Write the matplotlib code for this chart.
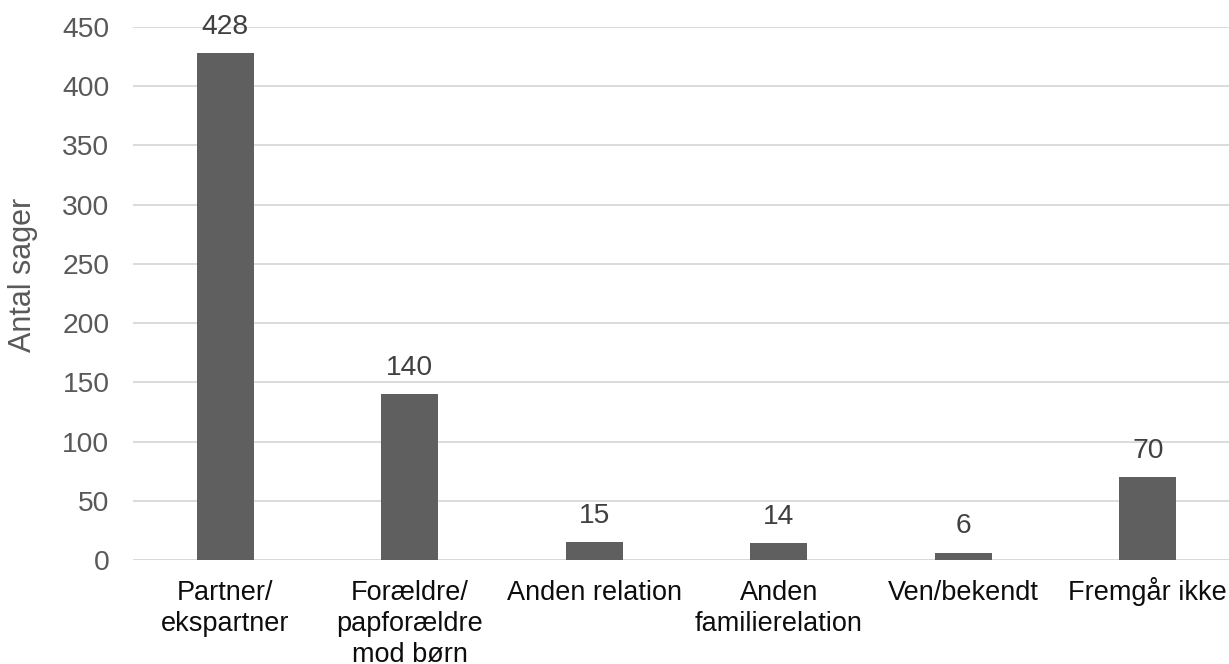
import matplotlib
matplotlib.use("Agg")
import matplotlib.pyplot as plt

categories = ["Partner/\nekspartner", "Forældre/\npapforældre\nmod børn", "Anden relation",
              "Anden\nfamilierelation", "Ven/bekendt", "Fremgår ikke"]
values = [428, 140, 15, 14, 6, 70]
yticks = [0, 50, 100, 150, 200, 250, 300, 350, 400, 450]

plt.rcParams['font.family'] = ['Liberation Sans', 'DejaVu Sans']
FS_CAT = 19.5
FS_NUM = 20.3
LS = 1.25
LINE_PX = 31

fig = plt.figure(figsize=(12.29, 6.64), dpi=100)
ax = fig.add_axes([133/1229, 104/664, 1107/1229, 533/664])

x = list(range(len(categories)))
ax.bar(x, values, width=0.31, color='#5f5f5f', zorder=3)
ax.set_xlim(-0.5, len(categories) - 0.5)
ax.set_ylim(0, 450)
ax.set_yticks(yticks)
ax.set_yticklabels([str(t) for t in yticks])
ax.set_xticks(x)
ax.set_xticklabels([])
ax.tick_params(axis='x', length=0)
ax.tick_params(axis='y', length=0, pad=17, labelsize=FS_NUM, labelcolor='#595959')
ax.grid(axis='y', color='#d9d9d9', linewidth=1.3, zorder=0)
for s in ax.spines.values():
    s.set_visible(False)
ax.axhline(0, color='#d9d9d9', linewidth=1.3, zorder=1)

# category labels: first-line baseline 40 px below the axis
for xi, cat in zip(x, categories):
    n = cat.count("\n") + 1
    ax.annotate(cat, (xi, 0), xytext=(0, -(40 + (n - 1) * LINE_PX)), textcoords='offset pixels',
                ha='center', va='baseline', multialignment='center', linespacing=LS,
                fontsize=FS_CAT, color='#0d0d0d', annotation_clip=False)

for xi, v in zip(x, values):
    ax.annotate(str(v), (xi, v), xytext=(0, 14), textcoords='offset points',
                ha='center', va='baseline', fontsize=FS_NUM, color='#404040', annotation_clip=False)

ax.set_ylabel("Antal sager", fontsize=22, color='#595959')
ax.yaxis.set_label_coords(-0.0858, 0.535)

fig.savefig("out.png", dpi=100)
